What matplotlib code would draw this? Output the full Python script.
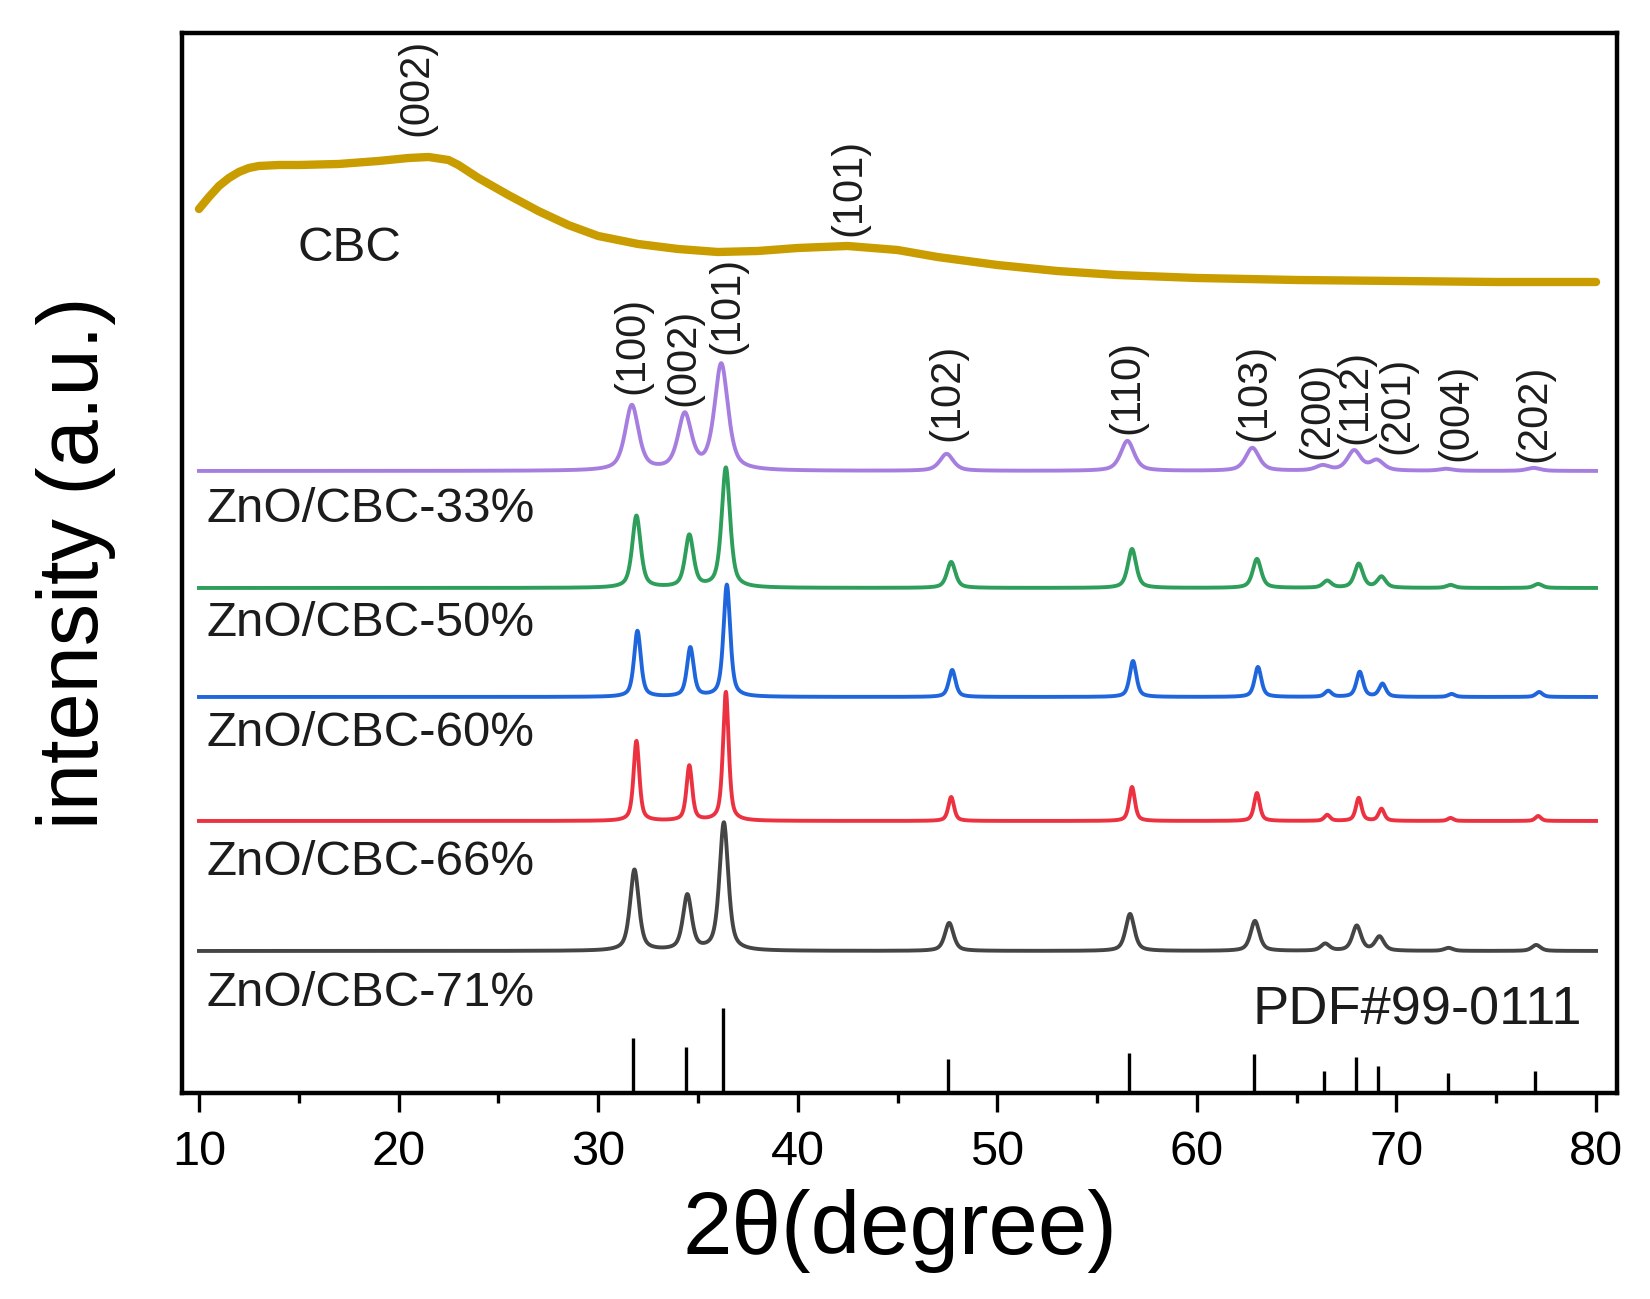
import numpy as np
import matplotlib.pyplot as plt
from matplotlib.ticker import MultipleLocator

plt.rcParams['font.family'] = ['Liberation Sans', 'DejaVu Sans']

# ZnO wurtzite reflections
hkl = ['(100)', '(002)', '(101)', '(102)', '(110)', '(103)',
       '(200)', '(112)', '(201)', '(004)', '(202)']
pos = [31.77, 34.42, 36.25, 47.54, 56.60, 62.86, 66.38, 67.96, 69.10, 72.56, 76.95]

# standard card PDF#99-0111, stick heights (a.u.)
pdf_h = [55, 46, 85, 34, 40, 39, 22, 36, 27, 20, 22]

# hkl label placement above the 33% pattern
lab_x = [31.7, 34.25, 36.5, 47.5, 56.5, 62.9, 66.05, 67.96, 70.07, 73.0, 76.9]
lab_y = [699, 687, 739, 652, 659, 652, 634, 649, 639, 632, 631]

samples = ['ZnO/CBC-33%', 'ZnO/CBC-50%', 'ZnO/CBC-60%', 'ZnO/CBC-66%', 'ZnO/CBC-71%']
colors = ['#A67EE0', '#2E9E5B', '#1F66DD', '#EC3240', '#454545']
offsets = [622, 505, 396, 272, 142]
shift = [-0.08, 0.15, 0.2, 0.15, 0.05]
fwhm = [0.8, 0.5, 0.4, 0.34, 0.52]
heights = [
    [65, 55, 106, 17, 30, 23, 5, 20, 10, 2, 3],    # 33%
    [72, 52, 120, 26, 39, 29, 7, 24, 11, 3, 4],    # 50%
    [66, 49, 112, 27, 36, 30, 6, 25, 13, 3, 5],    # 60%
    [80, 55, 129, 24, 34, 28, 6, 23, 12, 3, 5],    # 66%
    [81, 55, 128, 28, 37, 30, 7, 25, 14, 3, 6],    # 71%
]
sample_lab_y = [583, 469, 359, 230, 99]

# CBC amorphous pattern
cbc_x = [10.0, 10.5, 11.0, 11.5, 12.0, 12.5, 13.0, 14.0, 15.0, 17.0, 19.0, 20.5,
         21.5, 22.5, 23.0, 24.0, 25.5, 27.0, 28.5, 30.0, 32.0, 34.0, 36.0, 38.0,
         40.0, 42.5, 45.0, 47.0, 50.0, 53.0, 56.0, 60.0, 65.0, 70.0, 75.0, 80.0]
cbc_y = [884, 896, 907, 915, 921, 925, 927, 928, 928, 929, 932, 935,
         936, 933, 928, 915, 898, 882, 868, 857, 849, 844, 841, 842,
         845, 847, 843, 836, 828, 822, 818, 815, 813, 812, 811, 811]


def pattern(x, hs, w, dx):
    y = np.zeros_like(x)
    for p, h in zip(pos, hs):
        u = (x - p - dx) / (w / 2)
        y += h * (0.6 / (1 + u ** 2) + 0.4 * np.exp(-np.log(2) * u ** 2))
    return y


fig = plt.figure(figsize=(16.5, 12.99), dpi=100)
ax = fig.add_axes([0.1103, 0.1586, 0.8697, 0.816])

txt = '#1c1c1c'
x = np.linspace(10, 80, 3500)
for i in range(len(samples)):
    ax.plot(x, offsets[i] + pattern(x, heights[i], fwhm[i], shift[i]),
            color=colors[i], lw=2.8)
    ax.text(10.4, sample_lab_y[i], samples[i], fontsize=35.5, color=txt,
            ha='left', va='center')

ax.plot(cbc_x, cbc_y, color='#C99C00', lw=6, solid_joinstyle='round',
        solid_capstyle='round')
ax.text(14.96, 844, 'CBC', fontsize=35.5, color=txt, ha='left', va='center')
ax.text(20.9, 957, '(002)', fontsize=30, rotation=90, ha='center', va='bottom', color=txt)
ax.text(42.6, 857, '(101)', fontsize=30, rotation=90, ha='center', va='bottom', color=txt)

for lx, ly, t in zip(lab_x, lab_y, hkl):
    ax.text(lx, ly, t, fontsize=30, rotation=90, ha='center', va='bottom', color=txt)

ax.vlines(pos, 0, pdf_h, color='black', lw=2.4)
ax.text(79.3, 82, 'PDF#99-0111', fontsize=39, color=txt, ha='right', va='center')

ax.set_xlim(9.15, 81.05)
ax.set_ylim(0, 1060)
ax.xaxis.set_major_locator(MultipleLocator(10))
ax.xaxis.set_minor_locator(MultipleLocator(5))
ax.tick_params(axis='x', which='major', direction='out', length=14, width=2.4,
               labelsize=35, pad=13)
ax.tick_params(axis='x', which='minor', direction='out', length=7, width=2.4)
ax.set_yticks([])
for s in ax.spines.values():
    s.set_linewidth(3.2)

ax.set_xlabel('2θ(degree)', fontsize=64, labelpad=10)
ax.set_ylabel('intensity (a.u.)', fontsize=61)
ax.yaxis.set_label_coords(-0.046, 0.5)

fig.savefig('out.png', dpi=100)
